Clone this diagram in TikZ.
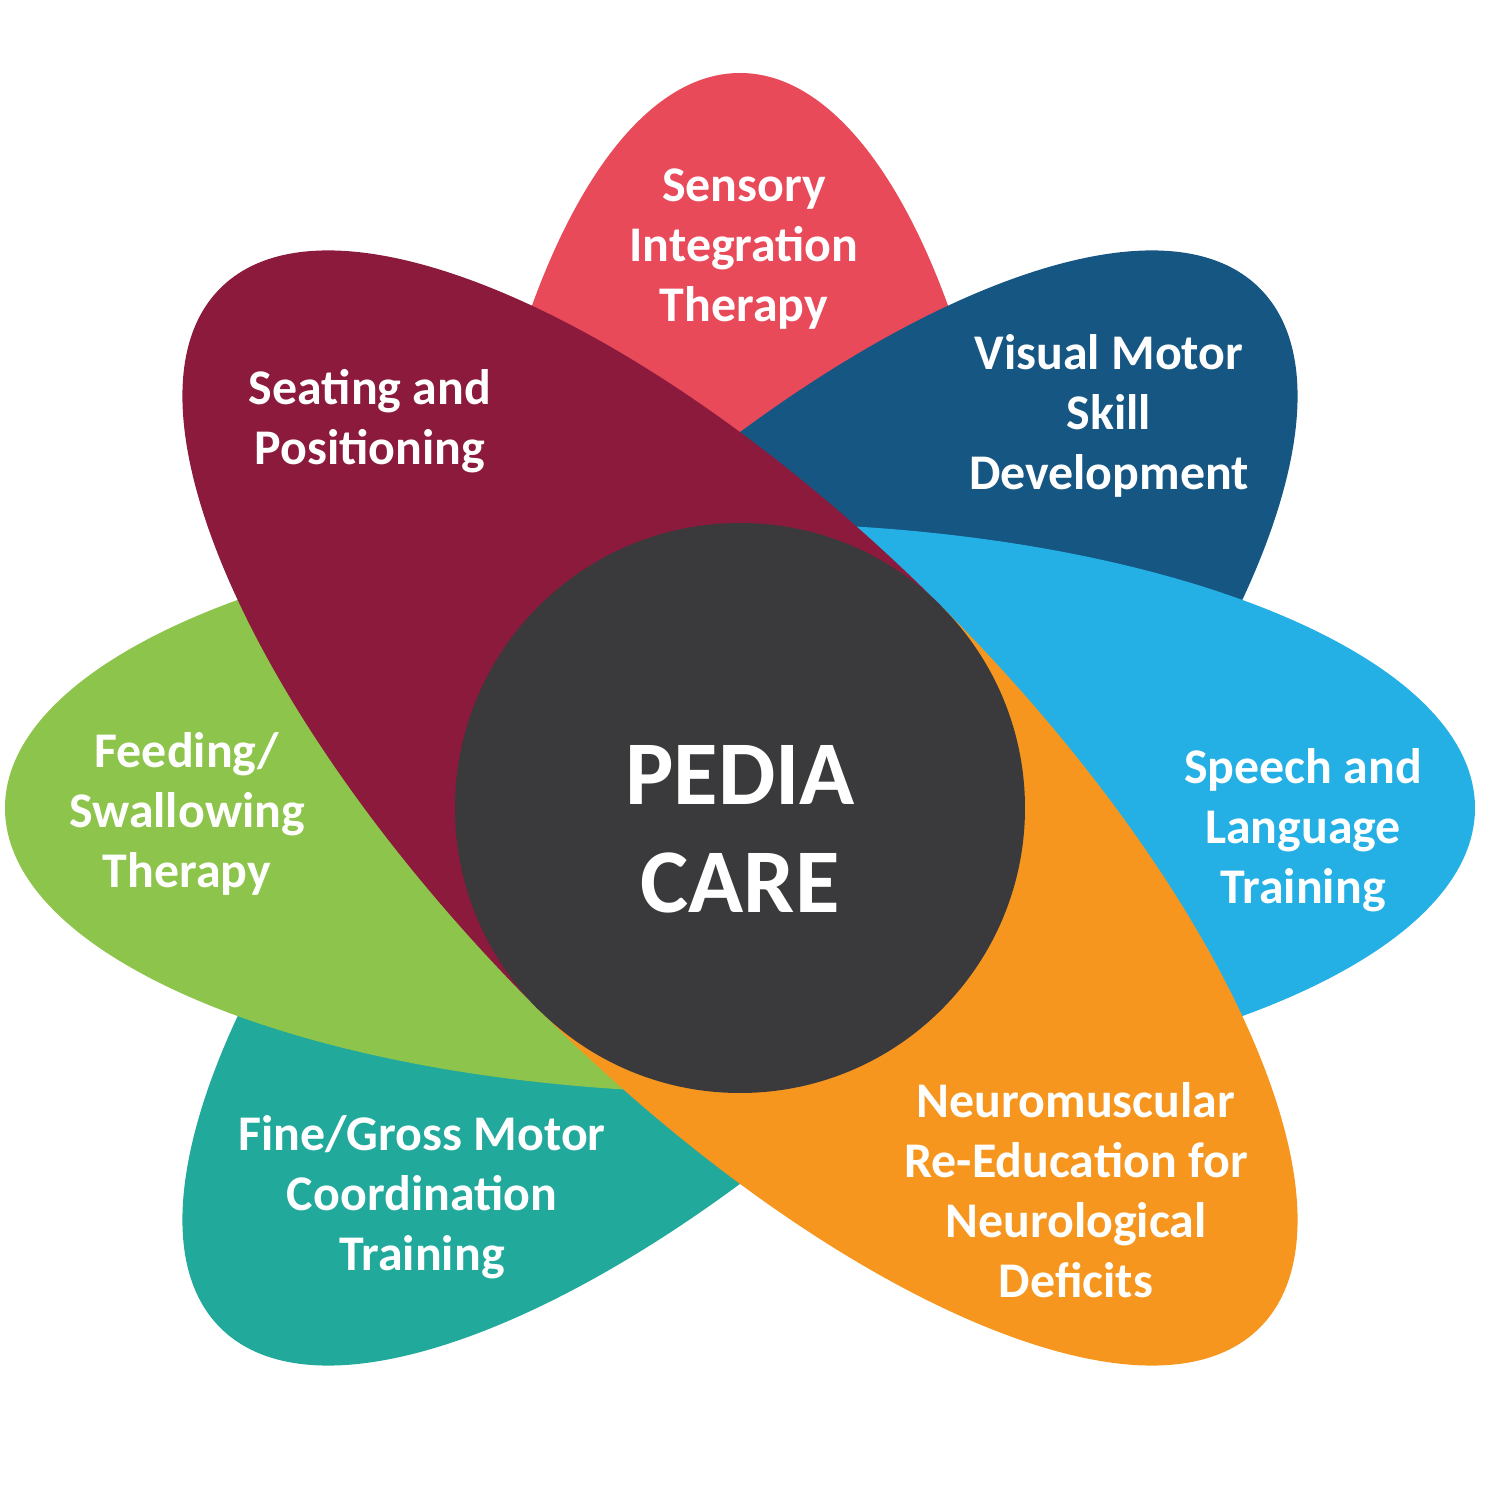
\documentclass[tikz,border=0pt]{standalone}
\usepackage{fontspec}
\setmainfont{Carlito}
\definecolor{sensory}{HTML}{E84A5A}
\definecolor{visual}{HTML}{165682}
\definecolor{speech}{HTML}{24B0E4}
\definecolor{neuro}{HTML}{F6961F}
\definecolor{finegross}{HTML}{21A99C}
\definecolor{feeding}{HTML}{8DC44B}
\definecolor{seating}{HTML}{8B1A3D}
\definecolor{hubgray}{HTML}{3A3A3C}
\tikzset{
%%%%%%%%%%  Node styles
hubdisc/.style={circle, fill=hubgray, minimum size=5.7cm, inner sep=0pt},
hubtext/.style={text=white, align=center, inner sep=0pt,
                font=\fontsize{25.9}{30.7}\selectfont\bfseries},
petaltext/.style={text=white, align=center, inner sep=0pt,
                  font=\fontsize{14.2}{17.1}\selectfont\bfseries},
}

\begin{document}
\begin{tikzpicture}
\useasboundingbox (0,0) rectangle (15,15);
\coordinate (c) at (7.40,6.92);
%%%% half petals, back to front
\foreach \ang/\col in {90/sensory, 45/visual, 225/finegross, 0/speech,
                       180/feeding, 135/seating, 315/neuro}{
  \begin{scope}[shift={(c)}, rotate=\ang]
    \fill[\col] (0,-2.85) arc[start angle=-90, end angle=90,
                               x radius=7.35, y radius=2.85] -- cycle;
  \end{scope}
}
\node[hubdisc] (hub) at (c) {};
\node[hubtext] (pedia) at (7.40,6.71) {PEDIA\\CARE};
\node[petaltext] (sens) at (7.44,12.51) {Sensory\\Integration\\Therapy};
\node[petaltext] (vis) at (11.09,10.84) {Visual Motor\\Skill\\Development};
\node[petaltext] (seat) at (3.70,10.79) {Seating and\\Positioning};
\node[petaltext] (spch) at (13.03,6.70) {Speech and\\Language\\Training};
\node[petaltext] (feed) at (1.87,6.86) {Feeding/\\Swallowing\\Therapy};
\node[petaltext] (fine) at (4.22,3.03) {Fine/Gross Motor\\Coordination\\Training};
\node[petaltext] (neur) at (10.76,3.10) {Neuromuscular\\Re-Education for\\Neurological\\Deficits};
\end{tikzpicture}
\end{document}
